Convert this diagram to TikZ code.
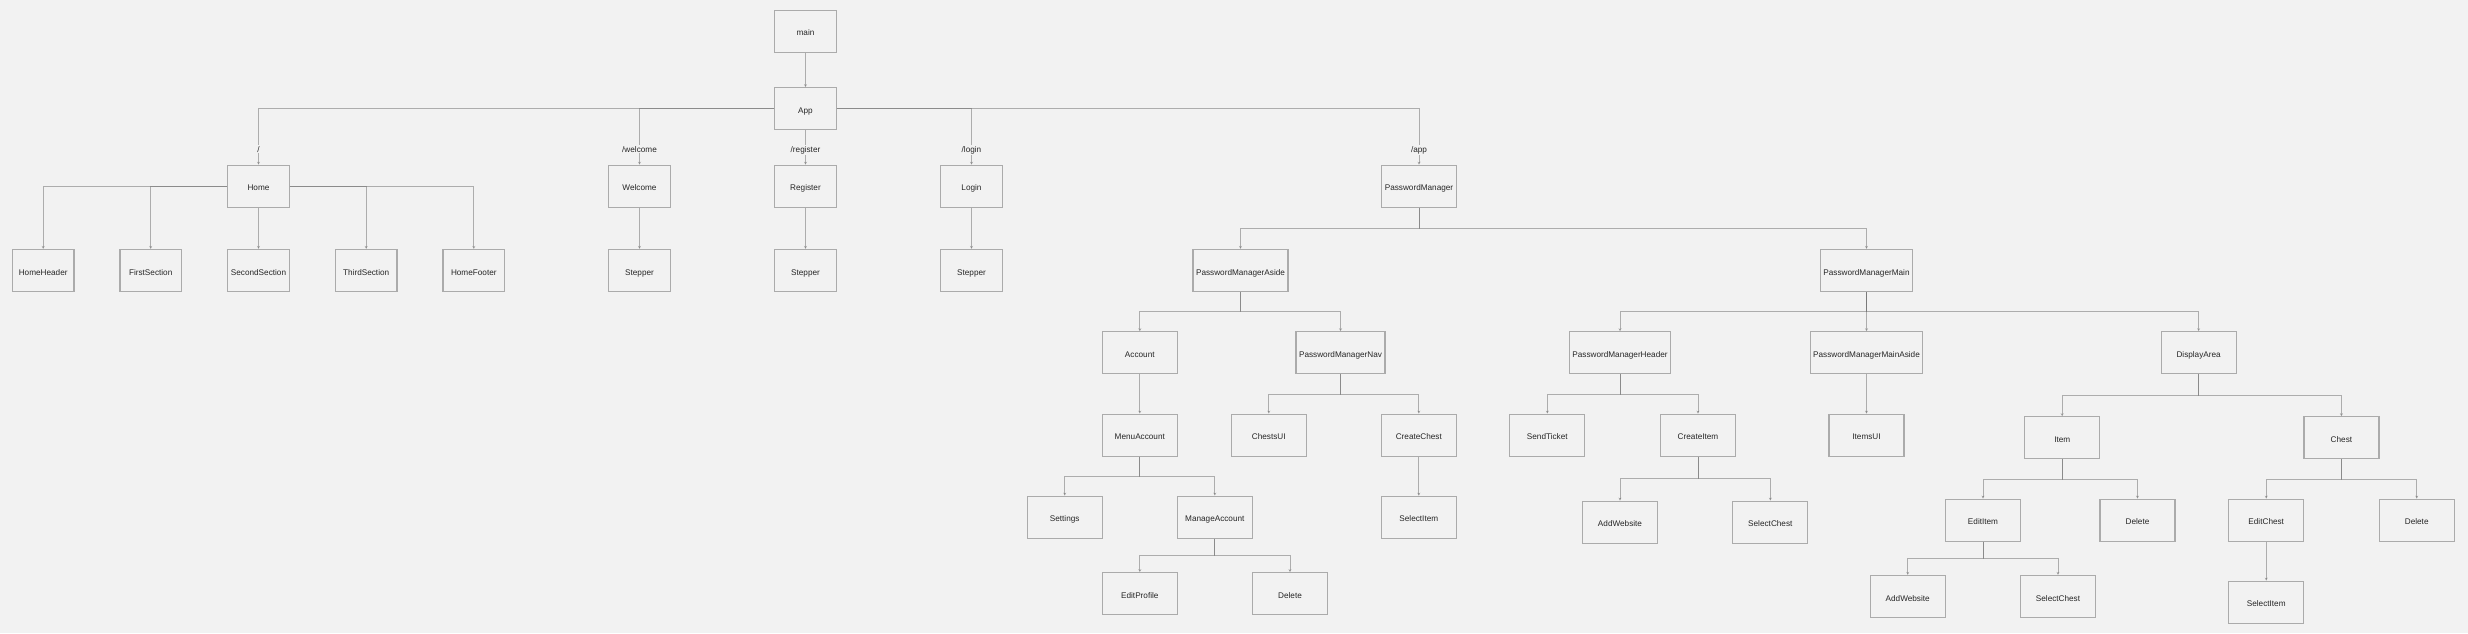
\documentclass[tikz,border=0pt]{standalone}
\usepackage{fontspec}
\setmainfont{Liberation Sans}
\usetikzlibrary{arrows.meta,calc}
\definecolor{bggray}{HTML}{F2F2F2}
\definecolor{boxgray}{HTML}{ABABAB}
\definecolor{linkgray}{HTML}{6A6A6A}
\definecolor{textgray}{HTML}{262626}
\begin{document}
\begin{tikzpicture}[x=1pt,y=-1pt,>={Stealth[length=3pt,width=3pt]},
	comp/.style={draw=boxgray,line width=1.2pt,fill=bggray,minimum width=61.5pt,minimum height=42pt,inner xsep=3pt,text height=9pt,text depth=0pt,text=textgray,font=\fontsize{8.2}{10}\selectfont},
	pmcomp/.style={comp,minimum width=75pt},
	link/.style={->,draw=linkgray,line width=0.9pt,draw opacity=0.5,fill opacity=0.5},
	elbow/.style={to path={(\tikztostart.south) |- ($(\tikztostart.south)!.5!(\tikztotarget.north)$) -| (\tikztotarget.north)}},
	route/.style={fill=bggray,inner sep=1pt,anchor=base,text=textgray,font=\fontsize{8.2}{10}\selectfont}]
\fill [bggray] (0,0) rectangle (2468,633);
\useasboundingbox (0,0) rectangle (2468,633);
\node [comp] (main) at (805.5,31.3) {main};
\node [comp] (app) at (805.5,108.7) {App};
\node [comp] (home) at (258.5,186.3) {Home};
\node [comp] (welcome) at (639.5,186.3) {Welcome};
\node [comp] (register) at (805.5,186.3) {Register};
\node [comp] (login) at (971.5,186.3) {Login};
\node [comp] (pm) at (1419,186.3) {PasswordManager};
\node [comp] (homeheader) at (43.2,270.5) {HomeHeader};
\node [comp] (firstsection) at (150.7,270.5) {FirstSection};
\node [comp] (secondsection) at (258.5,270.5) {SecondSection};
\node [comp] (thirdsection) at (366.2,270.5) {ThirdSection};
\node [comp] (homefooter) at (473.8,270.5) {HomeFooter};
\node [comp] (welcomestepper) at (639.5,270.5) {Stepper};
\node [comp] (registerstepper) at (805.5,270.5) {Stepper};
\node [comp] (loginstepper) at (971.5,270.5) {Stepper};
\node [pmcomp] (pmaside) at (1240.5,270.5) {PasswordManagerAside};
\node [pmcomp] (pmmain) at (1866.5,270.5) {PasswordManagerMain};
\node [pmcomp] (account) at (1139.8,352.8) {Account};
\node [pmcomp] (pmnav) at (1340.5,352.8) {PasswordManagerNav};
\node [pmcomp] (pmheader) at (1620,352.8) {PasswordManagerHeader};
\node [pmcomp] (pmmainaside) at (1866.5,352.8) {PasswordManagerMainAside};
\node [pmcomp] (displayarea) at (2198.6,352.8) {DisplayArea};
\node [pmcomp] (menuaccount) at (1139.8,435.2) {MenuAccount};
\node [pmcomp] (chestsui) at (1268.8,435.2) {ChestsUI};
\node [pmcomp] (createchest) at (1418.8,435.2) {CreateChest};
\node [pmcomp] (sendticket) at (1547.3,435.2) {SendTicket};
\node [pmcomp] (createitem) at (1698,435.2) {CreateItem};
\node [pmcomp] (itemsui) at (1866.5,435.2) {ItemsUI};
\node [pmcomp] (item) at (2062.2,437.8) {Item};
\node [pmcomp] (chest) at (2341.4,437.8) {Chest};
\node [pmcomp] (settings) at (1064.7,517.2) {Settings};
\node [pmcomp] (manageaccount) at (1214.8,517.2) {ManageAccount};
\node [pmcomp] (chestselectitem) at (1418.8,517.3) {SelectItem};
\node [pmcomp] (createaddwebsite) at (1620,522.2) {AddWebsite};
\node [pmcomp] (createselectchest) at (1770.3,522.2) {SelectChest};
\node [pmcomp] (edititem) at (1983,520.2) {EditItem};
\node [pmcomp] (deleteitem) at (2137.5,520.2) {Delete};
\node [pmcomp] (editchest) at (2266.2,520.2) {EditChest};
\node [pmcomp] (deletechest) at (2416.7,520.2) {Delete};
\node [pmcomp] (editprofile) at (1139.8,593.7) {EditProfile};
\node [pmcomp] (deleteaccount) at (1290,593.7) {Delete};
\node [pmcomp] (editaddwebsite) at (1907.7,596.5) {AddWebsite};
\node [pmcomp] (editselectchest) at (2058,596.5) {SelectChest};
\node [pmcomp] (editselectitem) at (2266.2,602.2) {SelectItem};
\draw [link] (main) -- (app);
\draw [link] (app.west) -| (home.north);
\draw [link] (app.west) -| (welcome.north);
\draw [link] (app) -- (register);
\draw [link] (app.east) -| (login.north);
\draw [link] (app.east) -| (pm.north);
\draw [link] (home.west) -| (homeheader.north);
\draw [link] (home.west) -| (firstsection.north);
\draw [link] (home) -- (secondsection);
\draw [link] (home.east) -| (thirdsection.north);
\draw [link] (home.east) -| (homefooter.north);
\draw [link] (welcome) -- (welcomestepper);
\draw [link] (register) -- (registerstepper);
\draw [link] (login) -- (loginstepper);
\draw [link] (pm) to[elbow] (pmaside);
\draw [link] (pm) to[elbow] (pmmain);
\draw [link] (pmaside) to[elbow] (account);
\draw [link] (pmaside) to[elbow] (pmnav);
\draw [link] (account) -- (menuaccount);
\draw [link] (pmnav) to[elbow] (chestsui);
\draw [link] (pmnav) to[elbow] (createchest);
\draw [link] (createchest) -- (chestselectitem);
\draw [link] (menuaccount) to[elbow] (settings);
\draw [link] (menuaccount) to[elbow] (manageaccount);
\draw [link] (manageaccount) to[elbow] (editprofile);
\draw [link] (manageaccount) to[elbow] (deleteaccount);
\draw [link] (pmmain) to[elbow] (pmheader);
\draw [link] (pmmain) to[elbow] (pmmainaside);
\draw [link] (pmmain) to[elbow] (displayarea);
\draw [link] (pmheader) to[elbow] (sendticket);
\draw [link] (pmheader) to[elbow] (createitem);
\draw [link] (createitem) to[elbow] (createaddwebsite);
\draw [link] (createitem) to[elbow] (createselectchest);
\draw [link] (pmmainaside) -- (itemsui);
\draw [link] (displayarea) to[elbow] (item);
\draw [link] (displayarea) to[elbow] (chest);
\draw [link] (item) to[elbow] (edititem);
\draw [link] (item) to[elbow] (deleteitem);
\draw [link] (edititem) to[elbow] (editaddwebsite);
\draw [link] (edititem) to[elbow] (editselectchest);
\draw [link] (chest) to[elbow] (editchest);
\draw [link] (chest) to[elbow] (deletechest);
\draw [link] (editchest) -- (editselectitem);
\node [route] (homeroute) at (home.north |- 0,152.3) {/};
\node [route] (welcomeroute) at (welcome.north |- 0,152.3) {/welcome};
\node [route] (registerroute) at (register.north |- 0,152.3) {/register};
\node [route] (loginroute) at (login.north |- 0,152.3) {/login};
\node [route] (pmroute) at (pm.north |- 0,152.3) {/app};
\end{tikzpicture}
\end{document}
